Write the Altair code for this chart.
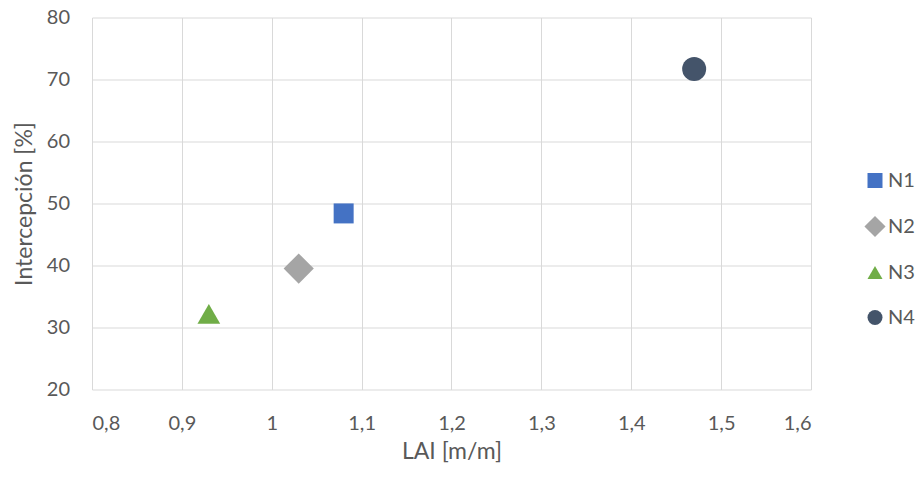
import altair as alt
import pandas as pd

# ---- data ----
series = ["N1", "N2", "N3", "N4"]
lai = [1.08, 1.03, 0.93, 1.47]
intercepcion = [48.4, 39.5, 32.2, 71.7]
x_ticks = [0.8, 0.9, 1.0, 1.1, 1.2, 1.3, 1.4, 1.5, 1.6]
y_ticks = [20, 30, 40, 50, 60, 70, 80]

df = pd.DataFrame({"serie": series, "lai": lai, "int": intercepcion})

# ---- styles ----
colors = ["#4472C4", "#A5A5A5", "#70AD47", "#44546A"]
shapes = ["square", "M-1.41,0L0,-1.41L1.41,0L0,1.41Z", "triangle-up", "circle"]
marker_sizes = [400, 576, 560, 430]
FONT = "Lato"
TXT = "#595959"
GRID = "#D9D9D9"

x_axis = alt.Axis(
    values=x_ticks,
    labelExpr="replace(format(datum.value, '.1~f'), '.', ',')",
    grid=True, gridColor=GRID, gridWidth=1,
    ticks=False, tickSize=0, domain=False,
    labelFont=FONT, labelFontSize=20, labelColor=TXT,
    labelBaseline="alphabetic", labelPadding=39.5,
    title="LAI [m/m]", titleFont=FONT, titleFontSize=23, titleFontWeight="normal",
    titleColor=TXT, titleBaseline="alphabetic", titleY=68.5, titleX=359.5,
    titleAlign="center",
)
y_axis = alt.Axis(
    values=y_ticks,
    grid=True, gridColor=GRID, gridWidth=1,
    ticks=False, tickSize=0, domain=False,
    labelFont=FONT, labelFontSize=20, labelColor=TXT,
    labelPadding=22.5, labelBaseline="middle",
    title="Intercepción [%]", titleFont=FONT, titleFontSize=23, titleFontWeight="normal",
    titleColor=TXT, titleBaseline="alphabetic", titleAngle=-90,
    titleX=-60.5, titleY=186, titleAlign="center",
)

x_enc = alt.X("lai:Q", scale=alt.Scale(domain=[0.8, 1.6], nice=False, zero=False), axis=x_axis)
y_enc = alt.Y("int:Q", scale=alt.Scale(domain=[20, 80], nice=False, zero=False), axis=y_axis)
color_scale = alt.Scale(domain=series, range=colors)
shape_scale = alt.Scale(domain=series, range=shapes)

base = alt.Chart(df)

# small copies (hidden under the real markers) that carry the legend
legend_layer = base.mark_point(filled=True, opacity=1, size=200, strokeWidth=0).encode(
    x=x_enc,
    y=y_enc,
    color=alt.Color(
        "serie:N",
        scale=color_scale,
        legend=alt.Legend(
            title=None, orient="none", legendX=773, legendY=153,
            symbolSize=225, symbolStrokeWidth=0, labelFont=FONT, labelFontSize=20,
            labelColor=TXT, labelOffset=3, rowPadding=25, symbolOpacity=1,
        ),
    ),
    shape=alt.Shape("serie:N", scale=shape_scale),
)

points = base.mark_point(filled=True, opacity=1, strokeWidth=0).encode(
    x=x_enc,
    y=y_enc,
    color=alt.Color("serie:N", scale=color_scale, legend=None),
    shape=alt.Shape("serie:N", scale=shape_scale, legend=None),
    size=alt.Size("serie:N", scale=alt.Scale(domain=series, range=marker_sizes), legend=None),
)

chart = (
    alt.layer(legend_layer, points)
    .resolve_legend(color="independent", shape="independent", size="independent")
    .properties(
        width=719, height=372,
        autosize=alt.AutoSizeParams(type="none"),
        padding={"left": 92, "top": 17.5, "right": 109, "bottom": 87.5},
        background="white",
    )
    .configure_view(stroke=None)
)

chart.save("out.html", embed_options={"renderer": "svg", "actions": False})
